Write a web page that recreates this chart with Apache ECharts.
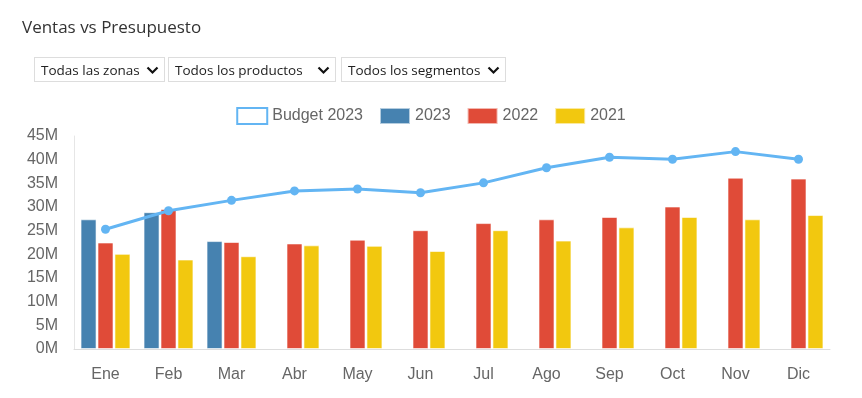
<!DOCTYPE html>
<html>
<head>
<meta charset="utf-8">
<script src="https://cdn.jsdelivr.net/npm/echarts@6/dist/echarts.min.js"></script>
<style>
  body { margin:0; background:#fff; font-family:"Open Sans","Noto Sans",sans-serif; }
  #wrap { position:relative; width:862px; height:398px; }
  #chart { position:absolute; left:0; top:0; width:862px; height:398px; }
  .title { position:absolute; left:22px; top:15px; font-size:17px; color:#333; }
  .dd { position:absolute; top:57px; height:25px; border:1px solid #ddd; font-size:13.5px; color:#222;
        line-height:25px; padding-left:6px; box-sizing:border-box; }
  .dd svg { position:absolute; right:5px; top:8px; }
</style>
</head>
<body>
<div id="wrap">
  <div id="chart"></div>
  <div class="title">Ventas vs Presupuesto</div>
  <div class="dd" style="left:34px;width:131px">Todas las zonas<svg width="13" height="9" viewBox="0 0 13 9"><path d="M1.5 1.5 L6.5 6.5 L11.5 1.5" stroke="#111" stroke-width="2.2" fill="none"/></svg></div>
  <div class="dd" style="left:168px;width:168px">Todos los productos<svg width="13" height="9" viewBox="0 0 13 9"><path d="M1.5 1.5 L6.5 6.5 L11.5 1.5" stroke="#111" stroke-width="2.2" fill="none"/></svg></div>
  <div class="dd" style="left:341px;width:165px">Todos los segmentos<svg width="13" height="9" viewBox="0 0 13 9"><path d="M1.5 1.5 L6.5 6.5 L11.5 1.5" stroke="#111" stroke-width="2.2" fill="none"/></svg></div>
</div>
<script>
// datos (millones)
const meses = ['Ene','Feb','Mar','Abr','May','Jun','Jul','Ago','Sep','Oct','Nov','Dic'];
const budget2023 = [25.3, 29.2, 31.4, 33.4, 33.8, 33.0, 35.1, 38.3, 40.5, 40.1, 41.7, 40.1];
const ventas2023 = [27.4, 28.9, 22.8, null, null, null, null, null, null, null, null, null];
const ventas2022 = [22.5, 29.6, 22.6, 22.3, 23.1, 25.1, 26.6, 27.4, 27.9, 30.1, 36.2, 36.0];
const ventas2021 = [20.1, 18.9, 19.6, 21.9, 21.8, 20.7, 25.1, 22.9, 25.7, 27.9, 27.4, 28.3];

const myChart = echarts.init(document.getElementById('chart'));
const txt = { color:'#666', fontSize:16, fontFamily:'Liberation Sans, Arial, sans-serif' };
const barStyle = (c) => ({ color:c, borderColor:'rgba(255,255,255,0.6)', borderWidth:1 });

let option = {
  animation:false,
  legend: {
    top:102, left:'center',
    itemWidth:30, itemHeight:16, itemGap:16,
    textStyle:txt,
    data:[
      {name:'Budget 2023', icon:'rect', itemStyle:{color:'#fff', borderColor:'#63b5f3', borderWidth:2}},
      {name:'2023', icon:'rect'},
      {name:'2022', icon:'rect'},
      {name:'2021', icon:'rect'}
    ]
  },
  grid: { left:74, right:32, top:136, bottom:49 },
  xAxis: {
    type:'category', data:meses,
    axisLine:{ lineStyle:{ color:'#ddd' } },
    axisTick:{ show:false },
    axisLabel:{ ...txt, margin:18 }
  },
  yAxis: {
    type:'value', min:0, max:45, interval:5,
    axisLine:{ show:true, lineStyle:{ color:'#e6e6e6' } },
    splitLine:{ show:false },
    axisLabel:{ ...txt, margin:16, formatter:'{value}M' }
  },
  series: [
    { name:'2023', type:'bar', data:ventas2023, barWidth:16, barGap:'6%', itemStyle:barStyle('#4682b0') },
    { name:'2022', type:'bar', data:ventas2022, barWidth:16, itemStyle:barStyle('#e04b38') },
    { name:'2021', type:'bar', data:ventas2021, barWidth:16, itemStyle:barStyle('#f2c80f') },
    { name:'Budget 2023', type:'line', data:budget2023, symbol:'circle', symbolSize:9,
      lineStyle:{ color:'#63b5f3', width:3 }, itemStyle:{ color:'#63b5f3' }, z:5 }
  ]
};
myChart.setOption(option);
</script>
</body>
</html>
